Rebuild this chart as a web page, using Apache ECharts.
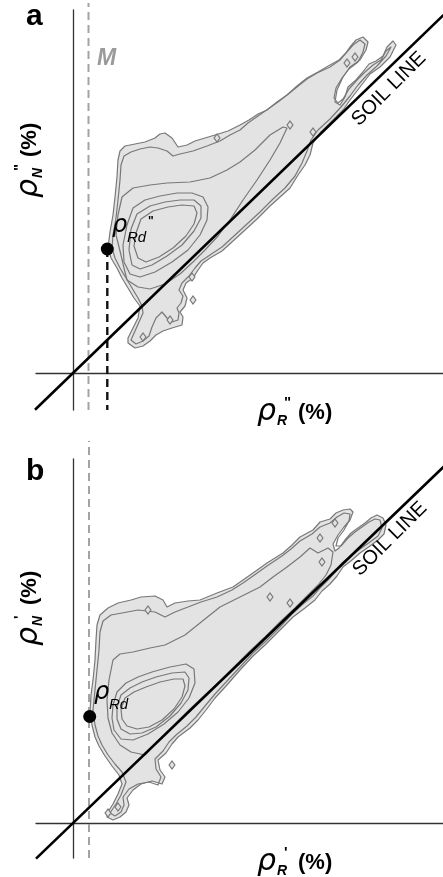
<!DOCTYPE html>
<html>
<head>
<meta charset="utf-8">
<script src="https://cdn.jsdelivr.net/npm/echarts@6/dist/echarts.min.js"></script>
<style>
html,body{margin:0;padding:0;background:#fff}
#chart{width:443px;height:877px}
</style>
</head>
<body>
<div id="chart"></div>
<script>
// ---- Panel a: density contours of (rho_R'', rho_N''), reflectance in % ----
const outerA = [[5.5,3.0],[6.2,2.5],[7.0,2.7],[7.7,3.2],[8.3,3.8],[9.0,4.2],[9.9,4.5],[10.9,4.8],[11.0,5.6],[10.7,6.1],[11.2,6.7],[11.4,7.5],[11.0,8.3],[11.3,9.0],[12.0,9.5],[12.5,10.3],[13.0,11.0],[13.7,11.5],[14.9,12.2],[16.0,13.2],[17.2,14.3],[18.4,15.4],[19.7,16.7],[20.7,17.6],[21.7,18.5],[22.5,19.8],[23.2,20.8],[23.7,21.8],[24.0,23.0],[24.7,24.0],[25.7,25.0],[27.0,26.3],[27.7,27.3],[28.7,28.6],[29.7,29.9],[30.7,30.6],[31.7,31.6],[32.3,32.8],[32.0,33.2],[31.4,32.6],[31.0,31.7],[30.3,31.2],[29.6,30.9],[28.9,30.0],[28.3,29.3],[27.5,28.6],[27.2,27.6],[26.7,26.8],[26.2,27.1],[26.4,28.3],[27.0,29.6],[27.7,30.6],[28.7,31.3],[29.3,32.3],[29.5,33.1],[29.0,33.6],[28.3,33.3],[27.7,32.6],[27.2,31.9],[26.7,31.3],[25.7,30.6],[24.4,30.0],[23.4,29.4],[22.4,28.6],[21.4,27.8],[20.4,27.1],[19.4,26.3],[18.5,25.9],[17.6,25.3],[16.7,24.8],[15.5,24.2],[14.2,23.8],[13.2,23.5],[12.2,23.2],[11.4,22.8],[10.5,22.6],[9.9,23.5],[9.2,24.0],[8.7,23.9],[8.2,23.5],[7.2,23.1],[6.2,22.9],[5.2,22.7],[4.7,22.2],[4.5,21.3],[4.4,19.6],[4.2,17.6],[4.0,15.8],[3.7,14.1],[3.5,12.5],[3.8,11.5],[4.4,10.5],[4.9,9.5],[5.5,8.5],[6.1,7.5],[6.7,6.7],[6.5,5.5],[6.0,4.5],[5.5,3.5]];
const level2A = [[5.8,3.3],[6.3,2.9],[7.0,3.2],[7.6,3.7],[7.9,4.6],[8.3,5.5],[8.9,6.1],[9.4,5.5],[9.9,5.1],[10.5,5.3],[10.6,6.0],[10.4,6.5],[10.8,7.0],[11.0,7.7],[10.6,8.3],[10.9,9.0],[11.6,9.7],[12.2,10.5],[12.8,11.2],[13.7,11.8],[14.9,12.6],[16.1,13.7],[17.4,14.9],[18.7,16.1],[20.0,17.4],[21.2,18.5],[22.2,19.7],[22.9,21.0],[23.4,22.2],[23.8,23.3],[24.5,24.3],[25.7,25.4],[26.8,26.6],[27.7,27.7],[28.5,28.8],[29.4,29.8],[30.4,30.7],[31.3,31.7],[31.8,32.6],[31.3,32.2],[30.8,31.3],[30.0,30.8],[29.2,30.1],[28.4,29.3],[27.6,28.4],[27.0,27.4],[26.5,27.0],[26.1,27.5],[26.3,28.5],[26.9,29.5],[27.6,30.4],[28.5,31.1],[29.0,32.1],[29.2,32.9],[28.7,33.3],[28.0,32.8],[27.3,32.0],[26.6,31.3],[25.7,30.8],[24.5,30.1],[23.4,29.5],[22.4,28.7],[21.4,27.8],[20.5,27.1],[19.5,26.4],[18.5,25.7],[17.5,25.0],[16.7,24.3],[15.7,23.8],[14.7,23.2],[13.4,22.7],[12.0,22.2],[10.7,21.9],[10.0,21.7],[9.4,22.2],[8.5,22.5],[7.7,22.6],[6.7,22.4],[5.8,22.1],[5.1,21.7],[4.8,20.8],[4.7,19.3],[4.5,17.3],[4.3,15.5],[4.0,13.8],[3.9,12.5],[4.2,11.5],[4.7,10.5],[5.3,9.5],[5.9,8.5],[6.5,7.5],[6.9,6.7],[7.0,6.0],[6.6,5.1],[6.2,4.2]];
const level3A = [[4.9,17.6],[4.5,15.8],[4.3,13.8],[4.8,11.8],[5.1,10.5],[5.4,9.3],[6.5,8.6],[7.7,8.4],[9.2,8.9],[10.7,9.9],[12.0,11.1],[13.2,12.3],[14.5,13.7],[15.7,15.3],[17.0,17.3],[18.4,19.3],[19.7,21.3],[20.7,23.0],[21.4,24.5],[21.0,24.6],[19.7,23.8],[18.2,22.3],[16.7,21.1],[15.4,20.3],[13.7,19.5],[11.7,19.1],[9.4,19.0],[7.7,18.8],[6.0,18.5]];
const core1A = [[5.4,14.8],[6.0,16.5],[7.2,17.3],[8.7,17.7],[10.4,18.0],[11.9,18.0],[13.0,17.6],[13.5,16.6],[13.4,15.3],[12.7,13.8],[11.5,12.3],[9.9,11.1],[8.2,10.1],[6.7,9.6],[5.7,9.9],[5.1,11.1],[5.0,12.8]];
const core2A = [[5.8,14.4],[6.4,15.9],[7.7,16.7],[9.2,17.1],[10.7,17.3],[12.1,17.3],[12.8,16.7],[12.8,15.5],[12.1,14.2],[10.9,12.8],[9.4,11.7],[7.9,10.8],[6.7,10.4],[5.9,10.8],[5.6,12.3]];
const core3A = [[6.3,14.0],[6.8,15.4],[8.0,16.2],[9.5,16.6],[10.9,16.8],[12.1,16.7],[12.4,16.0],[12.1,14.9],[11.3,13.7],[10.0,12.5],[8.6,11.6],[7.3,11.1],[6.5,11.5],[6.1,12.7]];
const islandsA = [[14.4,23.5],[21.7,24.8],[24.0,24.1],[11.9,9.6],[12.0,7.3],[9.7,5.3],[7.0,3.6],[27.4,31.0],[28.2,31.6]];

// ---- Panel b: density contours of (rho_R', rho_N') ----
const outerB = [[3.4,0.6],[4.0,0.3],[4.7,0.6],[5.3,1.1],[5.6,1.8],[5.4,2.5],[6.0,3.3],[6.8,3.9],[7.9,4.2],[8.9,3.9],[9.2,4.6],[8.7,5.3],[8.5,6.3],[9.3,7.0],[9.9,7.9],[10.5,8.6],[11.7,9.5],[12.5,10.3],[13.3,11.3],[14.2,12.5],[15.3,13.7],[16.7,15.3],[18.0,16.7],[19.2,17.8],[20.7,19.3],[22.0,20.6],[23.2,21.5],[24.2,22.3],[24.9,23.2],[25.7,23.9],[26.4,24.7],[27.0,25.6],[27.9,26.3],[28.7,27.0],[29.7,27.7],[30.5,28.3],[31.1,28.9],[31.3,29.8],[31.0,30.5],[30.4,30.8],[29.8,30.5],[29.2,30.0],[28.5,29.5],[27.8,29.0],[27.2,28.3],[26.6,27.5],[26.2,27.2],[26.0,27.9],[26.5,28.8],[27.1,29.6],[27.7,30.3],[28.0,31.1],[27.7,31.4],[27.0,31.3],[26.3,31.0],[25.7,30.4],[24.7,30.1],[24.0,29.3],[22.7,28.6],[21.9,27.8],[21.0,27.0],[19.4,26.0],[18.0,25.0],[17.0,24.3],[16.0,23.6],[14.4,23.0],[12.7,22.3],[11.5,22.2],[10.2,22.0],[9.4,21.6],[9.0,22.3],[8.2,22.7],[6.8,22.6],[5.8,22.3],[4.5,22.0],[3.5,21.5],[2.7,20.8],[2.4,19.8],[2.3,18.3],[2.2,16.3],[2.0,14.3],[1.8,12.8],[1.7,11.1],[1.9,9.8],[2.2,8.6],[2.6,7.7],[3.2,6.7],[3.9,5.7],[4.6,4.8],[4.9,3.9],[4.5,2.9],[4.0,1.9],[3.5,1.1]];
const level2B = [[3.7,1.0],[4.2,0.7],[4.8,1.1],[5.1,1.8],[5.0,2.6],[5.6,3.4],[6.5,3.9],[7.6,4.1],[8.5,3.8],[8.8,4.6],[8.3,5.4],[8.2,6.4],[9.0,7.2],[9.6,8.1],[10.3,8.8],[11.4,9.7],[12.3,10.6],[13.2,11.7],[14.2,12.9],[15.4,14.2],[16.7,15.6],[18.0,17.0],[19.3,18.2],[20.7,19.6],[21.9,20.9],[23.0,21.9],[24.0,22.7],[24.7,23.5],[25.5,24.3],[26.2,25.1],[26.9,26.0],[27.8,26.7],[28.7,27.4],[29.7,28.1],[30.5,28.7],[30.9,29.5],[30.7,30.3],[30.2,30.4],[29.6,30.1],[28.9,29.6],[28.2,29.1],[27.5,28.5],[26.8,27.7],[26.3,27.7],[26.5,28.5],[27.1,29.3],[27.6,30.2],[27.7,30.9],[27.1,31.0],[26.4,30.6],[25.7,30.0],[24.7,29.6],[23.9,28.9],[22.7,28.2],[21.8,27.4],[20.9,26.7],[19.4,25.7],[18.0,24.7],[17.0,24.0],[15.9,23.3],[14.4,22.6],[12.8,22.1],[11.5,21.6],[10.2,21.1],[9.2,20.6],[8.2,21.1],[6.5,21.3],[4.9,21.0],[3.8,20.8],[3.0,20.2],[2.7,19.1],[2.6,17.3],[2.4,15.3],[2.2,13.3],[2.0,11.3],[2.2,9.8],[2.5,8.7],[2.9,7.8],[3.5,6.8],[4.2,5.9],[4.9,5.1],[5.3,4.1],[4.8,2.8],[4.3,1.9]];
const level3B = [[4.0,16.3],[3.6,14.3],[3.4,12.3],[3.5,10.5],[3.9,9.0],[4.7,7.8],[5.8,7.1],[7.2,6.8],[8.7,8.4],[10.2,9.9],[11.7,11.4],[13.2,12.8],[14.7,14.2],[16.2,15.7],[17.7,17.2],[19.2,18.6],[20.7,20.1],[22.2,21.5],[23.5,22.8],[24.5,23.8],[25.3,24.8],[25.8,25.8],[26.0,27.1],[25.5,27.5],[24.5,27.0],[23.7,27.5],[22.7,26.6],[21.4,25.6],[20.0,24.6],[18.7,23.6],[16.7,22.6],[14.7,21.6],[12.7,20.0],[11.2,18.8],[9.2,17.8],[7.7,17.5],[6.0,17.1],[4.7,16.9]];
const core1B = [[4.0,11.8],[4.4,13.1],[5.3,14.0],[6.5,14.6],[7.9,15.1],[9.7,15.6],[11.3,15.9],[12.1,15.4],[12.2,14.0],[11.6,12.5],[10.5,11.1],[9.1,9.9],[7.5,8.9],[6.0,8.3],[4.8,8.4],[4.1,9.3],[3.9,10.5]];
const core2B = [[4.4,11.6],[4.8,12.8],[5.7,13.5],[6.9,14.1],[8.3,14.6],[9.9,15.0],[11.2,15.1],[11.6,14.5],[11.5,13.3],[10.8,12.0],[9.7,10.7],[8.3,9.6],[6.9,9.0],[5.7,8.9],[4.8,9.4],[4.4,10.4]];
const core3B = [[4.8,11.4],[5.2,12.5],[6.1,13.1],[7.3,13.6],[8.7,14.1],[10.1,14.4],[11.0,14.4],[11.2,13.7],[10.9,12.6],[10.1,11.4],[8.9,10.3],[7.6,9.6],[6.4,9.4],[5.4,9.7],[4.9,10.4]];
const islandsB = [[7.5,21.3],[19.7,22.6],[21.7,22.0],[24.7,28.5],[24.9,26.1],[4.5,1.6],[3.5,1.0],[9.9,5.8],[26.2,30.0]];

// ---- reference lines and the dark-soil points ----
const soilLineA = [[-3.8,-3.67],[37.4,36.13]];
const soilLineB = [[-3.7,-3.56],[37.2,35.75]];
const mLineA = [[1.55,-3.7],[1.55,37.0]];
const mLineB = [[1.6,-3.5],[1.6,38.2]];
const rdPointA = [[3.43,12.4]];
const rdDropA = [[3.43,12.4],[3.43,-3.7]];
const rdPointB = [[1.67,10.65]];

const axisRangeA = {x: [-3.7, 37], y: [-3.7, 36.3]};
const axisRangeB = {x: [-3.7, 37], y: [-3.5, 36.4]};

const CONTOUR = '#787878';
const SHADE = '#e3e3e3';

function contour(poly, gi, fill, z) {
  return {
    type: 'custom', xAxisIndex: gi, yAxisIndex: gi, z: z, silent: true,
    data: poly, encode: {x: 0, y: 1},
    renderItem: function (params, api) {
      if (params.dataIndex !== 0) return null;
      const pts = poly.map(function (p) { return api.coord(p); });
      return {type: 'polygon', shape: {points: pts},
        style: {fill: fill, stroke: CONTOUR, lineWidth: 1.2, lineJoin: 'round'}};
    }
  };
}
function islands(pts, gi) {
  return {type: 'scatter', xAxisIndex: gi, yAxisIndex: gi, z: 6, silent: true,
    data: pts, symbol: 'diamond', symbolSize: [6, 8],
    itemStyle: {color: SHADE, borderColor: CONTOUR, borderWidth: 1.1, opacity: 1}};
}
function line(pts, gi, color, width, dash, z) {
  return {type: 'line', xAxisIndex: gi, yAxisIndex: gi, z: z, silent: true, clip: false,
    data: pts, symbol: 'none', lineStyle: {color: color, width: width, type: dash}};
}
function dot(pts, gi) {
  return {type: 'scatter', xAxisIndex: gi, yAxisIndex: gi, z: 20, silent: true,
    data: pts, symbolSize: 13, itemStyle: {color: '#000', opacity: 1}};
}
function xAx(gi, r) {
  return {gridIndex: gi, type: 'value', min: r.x[0], max: r.x[1],
    axisLine: {onZero: true, lineStyle: {color: '#333', width: 1.3}},
    axisTick: {show: false}, axisLabel: {show: false}, splitLine: {show: false}};
}
function yAx(gi, r) {
  return {gridIndex: gi, type: 'value', min: r.y[0], max: r.y[1],
    axisLine: {onZero: true, lineStyle: {color: '#333', width: 1.3}},
    axisTick: {show: false}, axisLabel: {show: false}, splitLine: {show: false}};
}
function txt(x, y, s, font, color, extra) {
  return {type: 'text', x: x, y: y, z: 100,
    style: Object.assign({text: s, font: font, fill: color || '#000',
      textAlign: 'left', align: 'left', textVerticalAlign: 'middle', verticalAlign: 'middle'}, extra || {})};
}
// axis title like  rho_R'' (%)
function axisTitle(x, y, sub, sup, rot) {
  return {type: 'group', x: x, y: y, rotation: rot || 0, z: 100, children: [
    txt(0, -9, 'ρ', 'italic 30px "DejaVu Sans"'),
    txt(20, 0, sub, 'italic bold 14px "Liberation Sans"'),
    txt(27, -18, sup, 'bold 15px "Liberation Sans"'),
    txt(41, -8, '(%)', 'bold 22px "Liberation Sans"')
  ]};
}
function rdLabel(x, y, sup) {
  const kids = [
    txt(0, -8, 'ρ', 'italic 24px "DejaVu Sans"'),
    txt(15, 4, 'Rd', 'italic 15px "Liberation Sans"')
  ];
  if (sup) kids.push(txt(36, -12, sup, 'bold 12px "Liberation Sans"'));
  return {type: 'group', x: x, y: y, z: 100, children: kids};
}
function soilLabel(x, y) {
  return {type: 'text', x: x, y: y, rotation: Math.PI / 4, z: 100,
    style: {text: 'SOIL LINE', font: '20px "Liberation Sans"', fill: '#000',
      textAlign: 'center', align: 'center', textVerticalAlign: 'middle', verticalAlign: 'middle'}};
}

const chart = echarts.init(document.getElementById('chart'), null, {renderer: 'canvas'});
chart.setOption({
  animation: false,
  backgroundColor: '#fff',
  grid: [
    {left: 36, top: 10, width: 407, height: 400},
    {left: 36, top: 459, width: 407, height: 399}
  ],
  xAxis: [xAx(0, axisRangeA), xAx(1, axisRangeB)],
  yAxis: [yAx(0, axisRangeA), yAx(1, axisRangeB)],
  series: [
    contour(outerA, 0, SHADE, 2), contour(level2A, 0, 'none', 3), contour(level3A, 0, 'none', 3),
    contour(core1A, 0, 'none', 3), contour(core2A, 0, 'none', 3), contour(core3A, 0, 'none', 3),
    islands(islandsA, 0),
    line(mLineA, 0, '#a3a3a3', 2, [8, 5], 8),
    line(rdDropA, 0, '#111', 2.4, [8, 5], 8),
    line(soilLineA, 0, '#000', 2.6, 'solid', 10),
    dot(rdPointA, 0),

    contour(outerB, 1, SHADE, 2), contour(level2B, 1, 'none', 3), contour(level3B, 1, 'none', 3),
    contour(core1B, 1, 'none', 3), contour(core2B, 1, 'none', 3), contour(core3B, 1, 'none', 3),
    islands(islandsB, 1),
    line(mLineB, 1, '#a3a3a3', 2, [8, 5], 8),
    line(soilLineB, 1, '#000', 2.6, 'solid', 10),
    dot(rdPointB, 1)
  ],
  graphic: [
    txt(26, 17, 'a', 'bold 30px "Liberation Sans"'),
    txt(26, 472, 'b', 'bold 30px "Liberation Sans"'),
    txt(97, 59, 'M', 'italic bold 23px "Liberation Sans"', '#9b9b9b'),
    axisTitle(257, 421, 'R', '"'),
    axisTitle(38, 198, 'N', '"', Math.PI / 2),
    axisTitle(257, 871, 'R', "'"),
    axisTitle(38, 646, 'N', "'", Math.PI / 2),
    rdLabel(112, 234, '"'),
    rdLabel(94, 701, ''),
    soilLabel(389, 89),
    soilLabel(390, 539)
  ]
});
</script>
</body>
</html>
